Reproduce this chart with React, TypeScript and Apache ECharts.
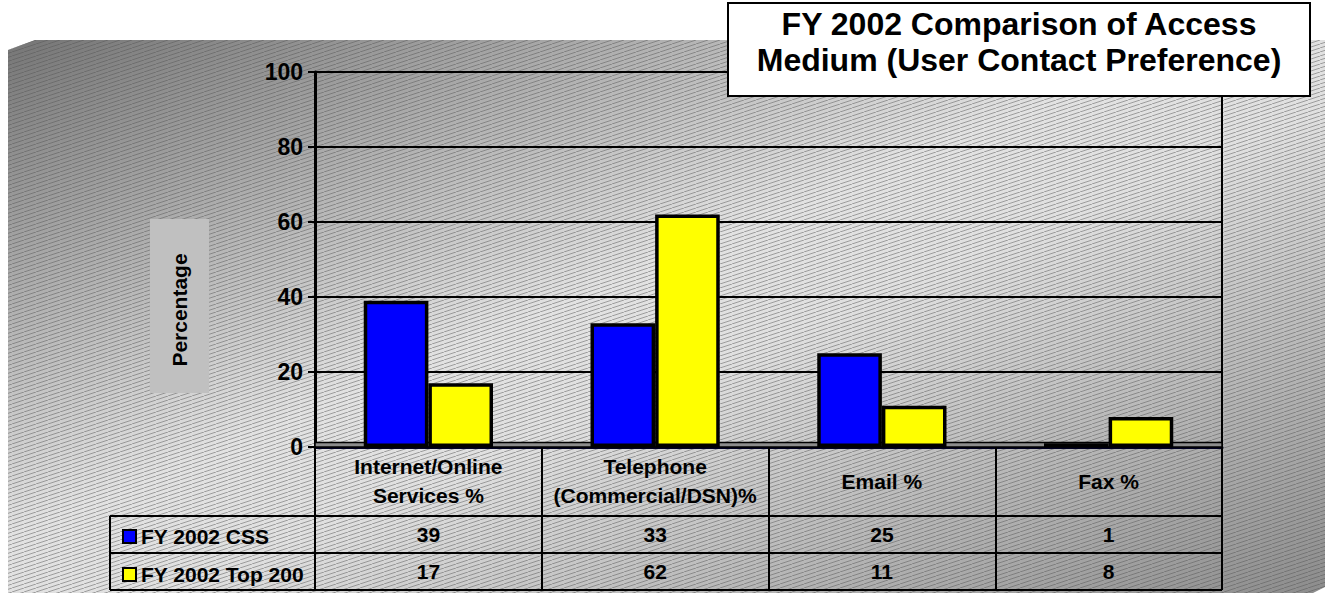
import React, { useEffect, useRef } from "react";
import * as echarts from "echarts";

// ---------- data ----------
const categories = [
  "Internet/Online\nServices %",
  "Telephone\n(Commercial/DSN)%",
  "Email %",
  "Fax %",
];
const seriesNames = ["FY 2002 CSS", "FY 2002 Top 200"];
const cssValues = [39, 33, 25, 1];
const top200Values = [17, 62, 11, 8];
const seriesColors = ["#0000FF", "#FFFF00"];
const yMin = 0;
const yMax = 100;
const yInterval = 20;
const titleLines = ["FY 2002 Comparison of Access", "Medium (User Contact Preference)"];
const yAxisName = "Percentage";

// ---------- layout ----------
const W = 1325;
const H = 598;
const FONT = "'Liberation Sans', Arial, Helvetica, sans-serif";
const GRID = { left: 315, top: 72, width: 907, height: 375 };
const TABLE_LEFT = 110;
const ROW_LINES = [516, 553, 590];

const hatchSvg =
  "<svg xmlns='http://www.w3.org/2000/svg' width='12' height='4'>" +
  "<line x1='-1' y1='4.333' x2='13' y2='-0.333' stroke='#555555' stroke-opacity='0.5' stroke-width='1'/>" +
  "</svg>";
const hatchUrl = "data:image/svg+xml;charset=utf-8," + encodeURIComponent(hatchSvg);

export default function App() {
  const ref = useRef<HTMLDivElement>(null);

  useEffect(() => {
    if (!ref.current) return;
    const chart = echarts.init(ref.current, undefined, { renderer: "svg" });

    const panelPoints = [
      [8, 50],
      [35, 40],
      [W, 40],
      [W, 587],
      [1313, 593],
      [8, 593],
    ];

    const option: any = {
      animation: false,
      backgroundColor: "#ffffff",
      grid: {
        left: GRID.left,
        top: GRID.top,
        width: GRID.width,
        height: GRID.height,
        show: true,
        borderColor: "#000",
        borderWidth: 2,
        backgroundColor: "transparent",
      },
      legend: {
        orient: "vertical",
        left: 117,
        top: 521,
        itemGap: 17,
        itemWidth: 13,
        itemHeight: 13,
        icon: "rect",
        selectedMode: false,
        itemStyle: { borderColor: "#000", borderWidth: 2 },
        textStyle: {
          fontFamily: FONT,
          fontWeight: "bold",
          fontSize: 21,
          color: "#000",
          lineHeight: 20,
        },
        data: seriesNames,
      },
      xAxis: {
        type: "category",
        data: categories,
        axisLine: { lineStyle: { color: "#000022", width: 3 } },
        axisTick: { show: true, length: 143, lineStyle: { color: "#000", width: 2 } },
        axisLabel: {
          interval: 0,
          margin: 34,
          verticalAlign: "middle",
          align: "center",
          fontFamily: FONT,
          fontWeight: "bold",
          fontSize: 21,
          lineHeight: 29,
          color: "#000",
        },
        splitLine: { show: false },
      },
      yAxis: {
        type: "value",
        min: yMin,
        max: yMax,
        interval: yInterval,
        axisLine: { show: true, lineStyle: { color: "#000", width: 3 } },
        axisTick: { show: true, length: 7, lineStyle: { color: "#000", width: 2 } },
        axisLabel: {
          margin: 12,
          fontFamily: FONT,
          fontWeight: "bold",
          fontSize: 23,
          color: "#000",
        },
        splitLine: { lineStyle: { color: "#000", width: 2 } },
      },
      series: [
        {
          type: "bar",
          name: seriesNames[0],
          data: cssValues,
          barGap: "0%",
          barCategoryGap: "43%",
          itemStyle: { color: seriesColors[0], borderColor: "#000", borderWidth: 3.5 },
          markArea: {
            silent: true,
            itemStyle: { color: "#8c8c8c", borderColor: "#000", borderWidth: 1.5 },
            data: [[{ yAxis: 0 }, { yAxis: 1.2 }]],
          },
        },
        {
          type: "bar",
          name: seriesNames[1],
          data: top200Values,
          barGap: "0%",
          barCategoryGap: "43%",
          itemStyle: { color: seriesColors[1], borderColor: "#000", borderWidth: 3.5 },
        },
      ],
    };

    chart.setOption(option);

    // table and decorations, positioned through the axis scale
    const centers = categories.map((_, i) =>
      chart.convertToPixel({ xAxisIndex: 0 }, i) as number
    );
    const gridRight = GRID.left + GRID.width;
    const rowCenters = [
      (ROW_LINES[0] + ROW_LINES[1]) / 2,
      (ROW_LINES[1] + ROW_LINES[2]) / 2,
    ];
    const valueRows = [cssValues, top200Values];

    const graphics: any[] = [
      {
        type: "polygon",
        z: -100,
        silent: true,
        shape: { points: panelPoints },
        style: {
          fill: new echarts.graphic.LinearGradient(0, 0, 1, 1, [
            { offset: 0, color: "#767676" },
            { offset: 0.45, color: "#e2e2e2" },
            { offset: 0.56, color: "#e0e0e0" },
            { offset: 1, color: "#8c8c8c" },
          ]),
        },
      },
      {
        type: "polygon",
        z: -99,
        silent: true,
        shape: { points: panelPoints },
        style: {
          fill: { image: hatchUrl, repeat: "repeat", imageWidth: 12, imageHeight: 4 },
        },
      },
      // table horizontal lines
      ...ROW_LINES.map((y) => ({
        type: "line",
        z: 10,
        silent: true,
        shape: { x1: TABLE_LEFT, y1: y, x2: gridRight, y2: y },
        style: { stroke: "#000", lineWidth: 2 },
      })),
      {
        type: "line",
        z: 10,
        silent: true,
        shape: { x1: TABLE_LEFT, y1: ROW_LINES[0], x2: TABLE_LEFT, y2: ROW_LINES[2] },
        style: { stroke: "#000", lineWidth: 2 },
      },
      // values
      ...valueRows.flatMap((vals, r) =>
        vals.map((v, i) => ({
          type: "text",
          z: 11,
          silent: true,
          x: centers[i],
          y: rowCenters[r],
          style: {
            text: String(v),
            fill: "#000",
            font: `bold 21px ${FONT}`,
            align: "center",
            verticalAlign: "middle",
          },
        }))
      ),
      // y axis name box
      {
        type: "rect",
        z: 50,
        silent: true,
        shape: { x: 150, y: 219, width: 59, height: 174 },
        style: { fill: "#c0c0c0" },
      },
      {
        type: "text",
        z: 51,
        silent: true,
        x: 179.5,
        y: 310,
        rotation: Math.PI / 2,
        style: {
          text: yAxisName,
          fill: "#000",
          font: `bold 21px ${FONT}`,
          align: "center",
          verticalAlign: "middle",
        },
      },
      // title box
      {
        type: "rect",
        z: 100,
        silent: true,
        shape: { x: 728, y: 3, width: 582, height: 93 },
        style: { fill: "#fff", stroke: "#000", lineWidth: 2 },
      },
      {
        type: "text",
        z: 101,
        silent: true,
        x: 1019,
        y: 6,
        style: {
          text: titleLines.join("\n"),
          fill: "#000",
          font: `bold 32px ${FONT}`,
          lineHeight: 36,
          align: "center",
          verticalAlign: "top",
        },
      },
    ];

    chart.setOption({ graphic: graphics });

    return () => chart.dispose();
  }, []);

  return (
    <div
      ref={ref}
      style={{ position: "absolute", left: 0, top: 0, width: W, height: H }}
    />
  );
}
